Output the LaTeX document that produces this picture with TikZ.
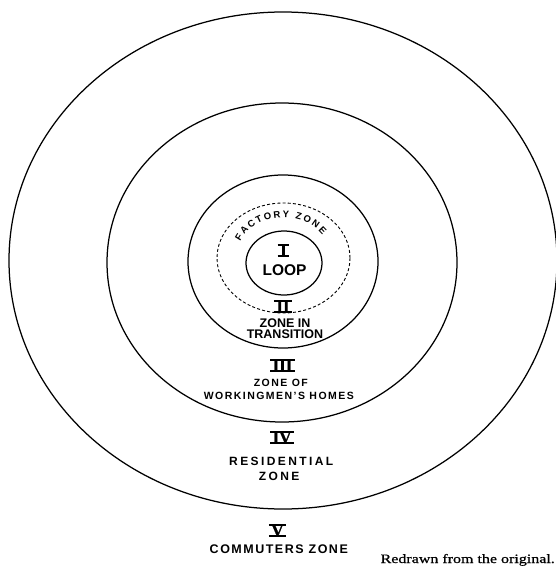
\documentclass[tikz,border=0pt]{standalone}
\usepackage{fontspec}
\setmainfont{Liberation Sans}
\newfontfamily\rnfont{Liberation Serif}[FakeBold=1.2]
\newfontfamily\creditfont{Liberation Serif}[FakeStretch=1.25,FakeBold=0.8]
\usetikzlibrary{decorations.text}
\newcommand\rnum[1]{\setbox0=\hbox{\rnfont\bfseries\fontsize{17}{17}\selectfont #1}%
  \hbox{\kern2.5pt\rlap{\kern-2.5pt\rule[-0.9pt]{\dimexpr\wd0+5pt\relax}{1.8pt}}%
  \rlap{\kern-2.5pt\rule[\dimexpr\ht0-0.9pt\relax]{\dimexpr\wd0+5pt\relax}{1.8pt}}%
  \box0\kern2.5pt}}
\begin{document}
\begin{tikzpicture}[x=1pt,y=1pt,
  ring/.style={draw=black, line width=1.25pt},
  dashring/.style={draw=black, line width=0.9pt, dash pattern=on 3pt off 2.2pt},
  num/.style={anchor=base, inner sep=0pt},
  lab/.style={anchor=base, inner sep=0pt, font=\bfseries\fontsize{#1}{#1}\selectfont},
  slab/.style n args={2}{anchor=base, inner sep=0pt, font=\bfseries\fontsize{#1}{#1}\selectfont\addfontfeature{LetterSpace=#2}}]
\useasboundingbox (0,0) rectangle (555,-570);
% zone boundaries
\coordinate (c5) at (283,-260.5);
\coordinate (c4) at (282,-262.5);
\coordinate (c3) at (283,-261.5);
\coordinate (cf) at (283.5,-258);
\coordinate (c1) at (284,-263);
\draw[ring] (c5) ellipse [x radius=274, y radius=248.5];
\draw[ring] (c4) ellipse [x radius=175, y radius=159.5];
\draw[ring] (c3) ellipse [x radius=95, y radius=86.5];
\draw[dashring] (cf) ellipse [x radius=66.5, y radius=55];
\draw[ring] (c1) ellipse [x radius=38, y radius=32];
% factory zone label along the dashed ring
\path[decorate, decoration={text along path, text align={fit to path},
  text={|\bfseries\fontsize{9.5}{10}\selectfont|FACTORY ZONE}}]
  ([shift={(156:47.5 and 40.5)}]cf) arc [start angle=156, end angle=35, x radius=47.5, y radius=40.5];
% zone I
\node[num] (n1) at (283.5,-256) {\rnum{I}};
\node[lab=15.5] (loop) at (284.5,-275) {LOOP};
% zone II
\node[num] (n2) at (283,-312) {\rnum{II}};
\node[lab=12.5] (zin) at (285,-327) {ZONE IN};
\node[lab=12.5] (tr) at (285,-338) {TRANSITION};
% zone III
\node[num] (n3) at (282.5,-371) {\rnum{III}};
\node[slab={10.5}{14}] (zof) at (280.8,-386) {ZONE OF};
\node[slab={10.5}{14}] (wm) at (278.8,-399) {WORKINGMEN'S HOMES};
% zone IV
\node[num] (n4) at (282,-443) {\rnum{IV}};
\node[slab={12}{20}] (res) at (281.2,-465) {RESIDENTIAL};
\node[slab={12}{20}] (rz) at (279.2,-480) {ZONE};
% zone V
\node[num] (n5) at (277.5,-536) {\rnum{V}};
\node[slab={12.5}{12}] (com) at (278.8,-553) {COMMUTERS ZONE};
% credit
\node[anchor=base east, inner sep=0pt, font=\creditfont\fontsize{12.8}{13}\selectfont] (cr) at (555,-563) {Redrawn from the original.};
\end{tikzpicture}
\end{document}
